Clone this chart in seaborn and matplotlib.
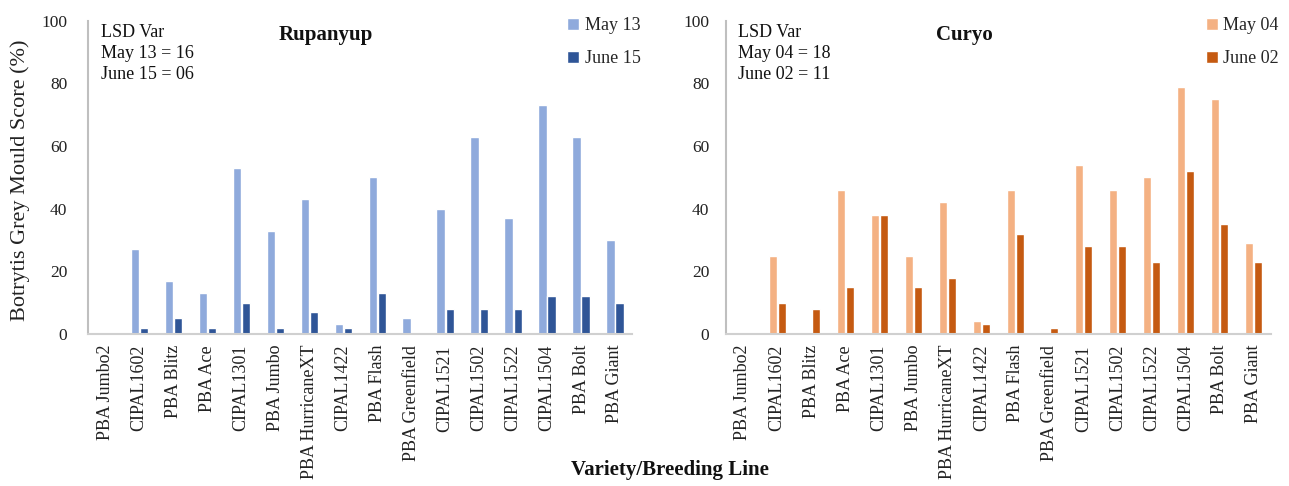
import matplotlib
matplotlib.use("Agg")
import matplotlib.pyplot as plt
import seaborn as sns
import pandas as pd
from matplotlib.patches import Patch

varieties = ["PBA Jumbo2", "CIPAL1602", "PBA Blitz", "PBA Ace", "CIPAL1301", "PBA Jumbo",
             "PBA HurricaneXT", "CIPAL1422", "PBA Flash", "PBA Greenfield", "CIPAL1521",
             "CIPAL1502", "CIPAL1522", "CIPAL1504", "PBA Bolt", "PBA Giant"]

rup_may13 = [0, 27, 17, 13, 53, 33, 43, 3, 50, 5, 40, 63, 37, 73, 63, 30]
rup_jun15 = [0, 2, 5, 2, 10, 2, 7, 2, 13, 0, 8, 8, 8, 12, 12, 10]
cur_may04 = [0, 25, 0, 46, 38, 25, 42, 4, 46, 0, 54, 46, 50, 79, 75, 29]
cur_jun02 = [0, 10, 8, 15, 38, 15, 18, 3, 32, 2, 28, 28, 23, 52, 35, 23]

sns.set_theme(style="white")
plt.rcParams['font.family'] = ['Liberation Serif', 'DejaVu Serif']

fig = plt.figure(figsize=(12.89, 4.86), dpi=100)
ax1 = fig.add_axes([0.0683, 0.313, 0.422, 0.644])
ax2 = fig.add_axes([0.5632, 0.313, 0.4228, 0.644])

panels = [
    (ax1, "Rupanyup", ("May 13", "June 15"), (rup_may13, rup_jun15), ("#8FAADC", "#2F5597"),
     "LSD Var\nMay 13 = 16\nJune 15 = 06", 15),
    (ax2, "Curyo", ("May 04", "June 02"), (cur_may04, cur_jun02), ("#F4B183", "#C55A11"),
     "LSD Var\nMay 04 = 18\nJune 02 = 11", 12),
]

for ax, title, names, vals, cols, lsd, ypad in panels:
    df = pd.DataFrame({
        "Variety": varieties * 2,
        "Date": [names[0]] * len(varieties) + [names[1]] * len(varieties),
        "Score": list(vals[0]) + list(vals[1]),
    })
    sns.barplot(data=df, x="Variety", y="Score", hue="Date", order=varieties,
                hue_order=list(names), palette=list(cols), width=0.53, gap=0.11,
                ax=ax, legend=False, saturation=1, errorbar=None)
    ax.set_ylim(0, 100)
    ax.set_xlim(-0.5, len(varieties) - 0.5)
    ax.set_yticks(range(0, 101, 20))
    ax.tick_params(axis='both', length=0, colors="#222222")
    ax.tick_params(axis='x', pad=8, labelsize=13)
    ax.tick_params(axis='y', pad=ypad, labelsize=12.5)
    for lab in ax.get_xticklabels():
        lab.set_rotation(90)
    ax.set_xlabel("")
    ax.set_ylabel("")
    for s in ["top", "right"]:
        ax.spines[s].set_visible(False)
    ax.spines["left"].set_color("#BFBFBF")
    ax.spines["bottom"].set_color("#D0D0D0")
    for s in ["left", "bottom"]:
        ax.spines[s].set_linewidth(1.5)
    ax.text(0.4375, 0.955, title, transform=ax.transAxes, ha="center", va="center",
            fontsize=15, fontweight="bold", color="#111111")
    ax.text(0.023, 0.99, lsd, transform=ax.transAxes, ha="left", va="top",
            fontsize=13, linespacing=1.32, color="#111111")
    handles = [Patch(facecolor=cols[0]), Patch(facecolor=cols[1])]
    ax.legend(handles, list(names), loc="upper left", bbox_to_anchor=(0.868, 1.035),
              frameon=False, fontsize=13, handlelength=0.65, handleheight=0.65,
              handletextpad=0.3, labelspacing=0.9, borderaxespad=0)

fig.text(20 / 1289, 1 - 180 / 486, "Botrytis Grey Mould Score (%)", rotation=90,
         ha="center", va="center", fontsize=16, color="#222222")
fig.text(670 / 1289, 1 - 470 / 486, "Variety/Breeding Line", ha="center", va="center",
         fontsize=15, fontweight="bold", color="#111111")

fig.savefig("out.png", dpi=100)
